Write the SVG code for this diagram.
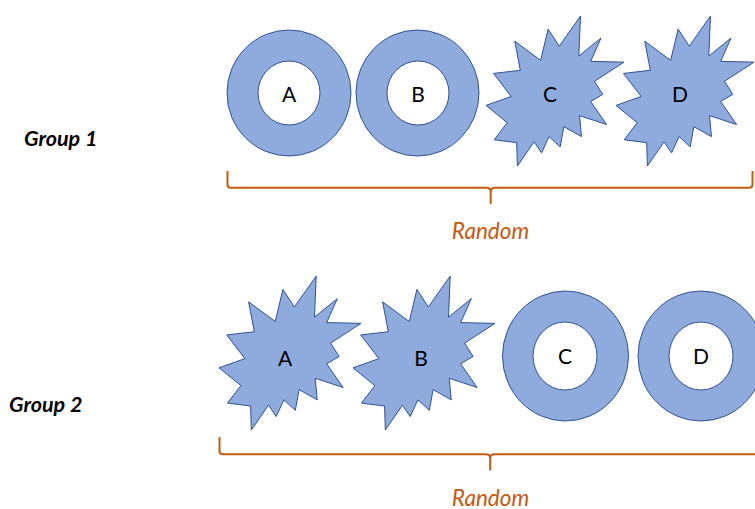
<svg xmlns="http://www.w3.org/2000/svg" xmlns:xlink="http://www.w3.org/1999/xlink" width="755" height="509" viewBox="0 0 755 509">
  <style>
    .shape { fill: #8FAADC; stroke: #2F528F; stroke-width: 1; fill-rule: evenodd; }
    .star { fill: #8FAADC; stroke: #2F528F; stroke-width: 1; vector-effect: non-scaling-stroke; stroke-linejoin: miter; }
    .lbl { font-family: Lato, "Open Sans", "Liberation Sans", sans-serif; font-size: 21px; fill: #000; text-anchor: middle; }
    .grp { font-family: Lato, "Open Sans", "Liberation Sans", sans-serif; font-size: 21.5px; font-weight: bold; font-style: italic; fill: #000; }
    .rnd { font-family: Lato, "Open Sans", "Liberation Sans", sans-serif; font-size: 22.5px; font-style: italic; fill: #C55A11; text-anchor: middle; }
    .brace { fill: none; stroke: #C55A11; stroke-width: 2; }
  </style>
  <defs>
    <path id="seal" class="star" d="M114.62,43.42 L147.9,0 L145.25,57.77 L180.07,31.72 L163.8,65.32 L216,66.45 L169.85,94.02 L182.7,112.9 L163.8,123.1 L188.77,156.32 L146.4,143.5 L149.42,173.7 L121.8,159.35 L116.12,188.42 L98.72,173.7 L87,197.12 L75.27,181.25 L49.17,216 L48.05,182.4 L12.85,178.25 L33.3,153.7 L0,128.77 L39.35,115.92 L11.72,82.7 L53.72,78.17 L45.02,36.25 L85.5,63.82 L97.22,18.87 Z"/>
  </defs>
  <rect width="755" height="509" fill="#FFFFFF"/>

  <!-- Group 1 -->
  <g id="group1-label"><text class="grp" x="24" y="146">Group 1</text></g>
  <g id="g1-A">
    <path class="shape" d="M227,93 a62,63 0 1,0 124,0 a62,63 0 1,0 -124,0 Z M258,93 a31,32 0 1,0 62,0 a31,32 0 1,0 -62,0 Z"/>
    <text class="lbl" x="289" y="101.5">A</text>
  </g>
  <g id="g1-B">
    <path class="shape" d="M356,93 a61.5,63 0 1,0 123,0 a61.5,63 0 1,0 -123,0 Z M387,93 a31,32 0 1,0 62,0 a31,32 0 1,0 -62,0 Z"/>
    <text class="lbl" x="418" y="101.5">B</text>
  </g>
  <g id="g1-C">
    <use xlink:href="#seal" transform="translate(486,16) scale(0.6389,0.6944)"/>
    <text class="lbl" x="550" y="102">C</text>
  </g>
  <g id="g1-D">
    <use xlink:href="#seal" transform="translate(616,16) scale(0.6389,0.6944)"/>
    <text class="lbl" x="680" y="102">D</text>
  </g>

  <!-- Group 2 -->
  <g id="group2-label"><text class="grp" x="9" y="411.5">Group 2</text></g>
  <g id="g2-A">
    <use xlink:href="#seal" transform="translate(219,276) scale(0.6574,0.713)"/>
    <text class="lbl" x="285" y="365.5">A</text>
  </g>
  <g id="g2-B">
    <use xlink:href="#seal" transform="translate(353,276) scale(0.6574,0.713)"/>
    <text class="lbl" x="421" y="365.5">B</text>
  </g>
  <g id="g2-C">
    <path class="shape" d="M502.5,356 a63,65 0 1,0 126,0 a63,65 0 1,0 -126,0 Z M533,356 a32,34 0 1,0 64,0 a32,34 0 1,0 -64,0 Z"/>
    <text class="lbl" x="565" y="364">C</text>
  </g>
  <g id="g2-D">
    <path class="shape" d="M638,356 a63,65 0 1,0 126,0 a63,65 0 1,0 -126,0 Z M669,356 a32,34 0 1,0 64,0 a32,34 0 1,0 -64,0 Z"/>
    <text class="lbl" x="701" y="364">D</text>
  </g>

  <!-- Braces -->
  <g id="connectors">
    <path class="brace" d="M227.5,171 V184.5 Q227.5,187.7 230.7,187.7 H486.5 Q490.7,187.7 490.7,192 V204 M752.5,171 V184.5 Q752.5,187.7 749.3,187.7 H494.9 Q490.7,187.7 490.7,192"/>
    <path class="brace" d="M219.5,437 V451 Q219.5,454.3 222.7,454.3 H486 Q490.2,454.3 490.2,458.6 V470.6 M760,454.3 H494.4 Q490.2,454.3 490.2,458.6"/>
  </g>
  <g id="random1"><text class="rnd" x="490.5" y="239">Random</text></g>
  <g id="random2"><text class="rnd" x="490.5" y="505.5">Random</text></g>
</svg>
